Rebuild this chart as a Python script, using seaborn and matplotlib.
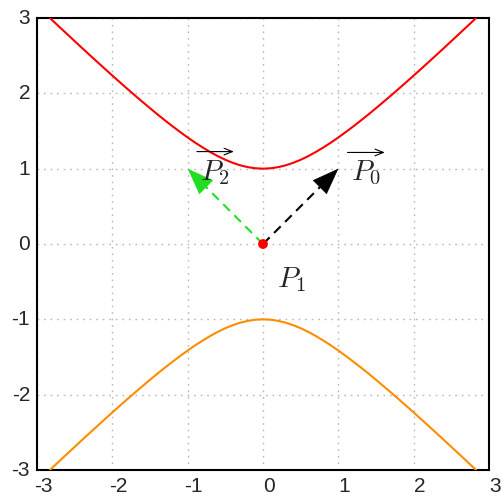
import matplotlib
matplotlib.use("Agg")
import numpy as np
import pandas as pd
import seaborn as sns
import matplotlib.pyplot as plt
from matplotlib.transforms import ScaledTranslation

# ---- data ----
x_curve = [-2.83, -2.8, -2.7, -2.6, -2.5, -2.4, -2.3, -2.2, -2.1, -2.0, -1.9, -1.8, -1.7, -1.6, -1.5,
           -1.4, -1.3, -1.2, -1.1, -1.0, -0.9, -0.8, -0.7, -0.6, -0.5, -0.4, -0.3, -0.2, -0.1,
           0.0,
           0.1, 0.2, 0.3, 0.4, 0.5, 0.6, 0.7, 0.8, 0.9, 1.0, 1.1, 1.2, 1.3, 1.4,
           1.5, 1.6, 1.7, 1.8, 1.9, 2.0, 2.1, 2.2, 2.3, 2.4, 2.5, 2.6, 2.7, 2.8, 2.83]
y_upper = [3.001, 2.973, 2.879, 2.786, 2.693, 2.600, 2.508, 2.417, 2.326, 2.236, 2.147, 2.059, 1.972, 1.887, 1.803,
           1.720, 1.640, 1.562, 1.487, 1.414, 1.345, 1.281, 1.221, 1.166, 1.118, 1.077, 1.044, 1.020, 1.005,
           1.000,
           1.005, 1.020, 1.044, 1.077, 1.118, 1.166, 1.221, 1.281, 1.345, 1.414, 1.487, 1.562, 1.640, 1.720,
           1.803, 1.887, 1.972, 2.059, 2.147, 2.236, 2.326, 2.417, 2.508, 2.600, 2.693, 2.786, 2.879, 2.973, 3.001]
y_lower = [-3.001, -2.973, -2.879, -2.786, -2.693, -2.600, -2.508, -2.417, -2.326, -2.236, -2.147, -2.059, -1.972, -1.887, -1.803,
           -1.720, -1.640, -1.562, -1.487, -1.414, -1.345, -1.281, -1.221, -1.166, -1.118, -1.077, -1.044, -1.020, -1.005,
           -1.000,
           -1.005, -1.020, -1.044, -1.077, -1.118, -1.166, -1.221, -1.281, -1.345, -1.414, -1.487, -1.562, -1.640, -1.720,
           -1.803, -1.887, -1.972, -2.059, -2.147, -2.236, -2.326, -2.417, -2.508, -2.600, -2.693, -2.786, -2.879, -2.973, -3.001]

origin = (0.0, 0.0)
vec_p0 = (1.0, 1.0)
vec_p2 = (-1.0, 1.0)

ticks = [-3, -2, -1, 0, 1, 2, 3]
tick_labels = ["-3", "-2", "-1", "0", "1", "2", "3"]

sns.set_style("white")
plt.rcParams["font.family"] = ["Liberation Sans", "DejaVu Sans"]
plt.rcParams["mathtext.fontset"] = "cm"

fig = plt.figure(figsize=(5.01, 4.97), dpi=100)
ax = fig.add_axes([37 / 501, 1 - 470 / 497, 452 / 501, 452 / 497])

df_up = pd.DataFrame({"x": x_curve, "y": y_upper})
df_lo = pd.DataFrame({"x": x_curve, "y": y_lower})
sns.lineplot(data=df_up, x="x", y="y", sort=False, estimator=None, color="#ff0000", lw=1.5, ax=ax, zorder=3)
sns.lineplot(data=df_lo, x="x", y="y", sort=False, estimator=None, color="#ff8c00", lw=1.5, ax=ax, zorder=3)

# dashed vectors
for vec, col in [(vec_p0, "black"), (vec_p2, "#22dd22")]:
    dv = pd.DataFrame({"x": [origin[0], vec[0]], "y": [origin[1], vec[1]]})
    sns.lineplot(data=dv, x="x", y="y", sort=False, estimator=None, color=col, lw=1.5,
                 ax=ax, zorder=4)
    ax.lines[-1].set_dashes((4.5, 3))
    ax.annotate("", xy=vec, xytext=(vec[0] * 0.9, vec[1] * 0.9),
                arrowprops=dict(arrowstyle="-|>,head_length=0.75,head_width=0.28",
                                color=col, lw=0.5, shrinkA=0, shrinkB=0, mutation_scale=24),
                zorder=5)

sns.scatterplot(x=[origin[0]], y=[origin[1]], color="#ff0000", s=50, edgecolor="none", ax=ax, zorder=6)

t0 = ax.text(1.17, 0.85, r"$P_0$", fontsize=21, ha="left", va="baseline", zorder=7)
t2 = ax.text(-0.83, 0.85, r"$P_2$", fontsize=21, ha="left", va="baseline", zorder=7)
ax.text(0.19, -0.57, r"$P_1$", fontsize=21, ha="left", va="baseline", zorder=7)
# vector arrows over the labels
for t in (t0, t2):
    ax.annotate("", xy=(1.12, 1.22), xycoords=t, xytext=(-0.12, 1.22), textcoords=t,
                arrowprops=dict(arrowstyle="->,head_length=0.5,head_width=0.2",
                                color="black", lw=0.8, shrinkA=0, shrinkB=0, mutation_scale=12),
                zorder=7)

ax.set_xlim(-3, 3)
ax.set_ylim(-3, 3)
ax.set_xticks(ticks)
ax.set_yticks(ticks)
ax.set_xticklabels(tick_labels)
ax.set_yticklabels(tick_labels)
ax.set_xlabel("")
ax.set_ylabel("")
ax.grid(True, color="#b8b8b8", linestyle=(0, (1.2, 3.5)), linewidth=1.0)
ax.set_axisbelow(True)
ax.tick_params(length=0, labelsize=15, pad=5.0)
for s in ax.spines.values():
    s.set_color("black")
    s.set_linewidth(1.5)

off = ScaledTranslation(0.06, 0, fig.dpi_scale_trans)
for lab in ax.get_xticklabels():
    lab.set_transform(lab.get_transform() + off)
offy = ScaledTranslation(0, 0.015, fig.dpi_scale_trans)
for lab in ax.get_yticklabels():
    lab.set_transform(lab.get_transform() + offy)

fig.savefig("out.png", dpi=100)
